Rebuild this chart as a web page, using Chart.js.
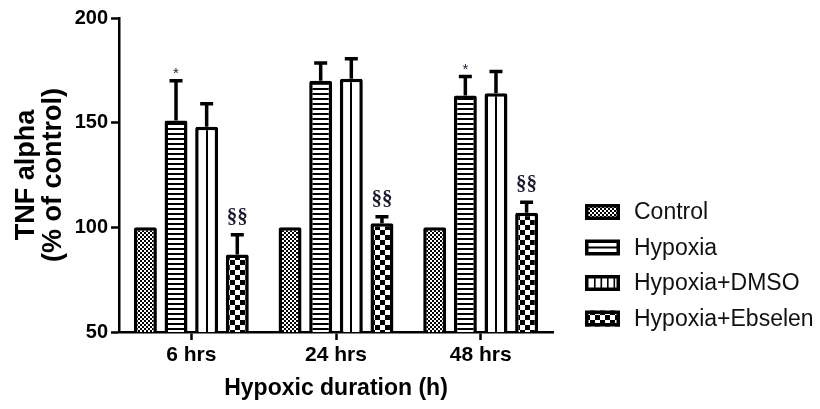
<!DOCTYPE html>
<html>
<head>
<meta charset="utf-8">
<script src="https://cdn.jsdelivr.net/npm/chart.js@4.4.1/dist/chart.umd.min.js"></script>
<style>
html, body { margin: 0; padding: 0; background: #fff; }
#wrap { width: 820px; height: 409px; }
</style>
</head>
<body>
<div id="wrap"><canvas id="chart" width="820" height="409"></canvas></div>
<script>
// data
const durations = ['6 hrs', '24 hrs', '48 hrs'];
const groupNames = ['Control', 'Hypoxia', 'Hypoxia+DMSO', 'Hypoxia+Ebselen'];
const controlVals = [100, 100, 100];
const hypoxiaVals = [151, 170, 163];
const dmsoVals = [148, 171, 164];
const ebselenVals = [87, 102, 107];
const controlErr = [0, 0, 0];
const hypoxiaErr = [19, 8.5, 9];
const dmsoErr = [11, 9.5, 10.5];
const ebselenErr = [9.5, 3, 5];
const controlMarks = ['', '', ''];
const hypoxiaMarks = ['*', '', '*'];
const dmsoMarks = ['', '', ''];
const ebselenMarks = ['§§', '§§', '§§'];
const yTicks = [50, 100, 150, 200];

const FONT = "'Liberation Sans', Arial, sans-serif";
const catPct = 0.847;

let ctx = document.getElementById('chart').getContext('2d');

function tile(w, h, draw) {
    let c = document.createElement('canvas');
    c.width = w;
    c.height = h;
    let g = c.getContext('2d');
    g.fillStyle = '#fff';
    g.fillRect(0, 0, w, h);
    g.fillStyle = '#000';
    draw(g);
    return c;
}

let checkFine = ctx.createPattern(tile(4, 4, g => { g.fillRect(0, 0, 2, 2); g.fillRect(2, 2, 2, 2); }), 'repeat');
let hLines = ctx.createPattern(tile(5, 5, g => g.fillRect(0, 3, 5, 2)), 'repeat');
let checkCoarse = ctx.createPattern(tile(10, 10, g => { g.fillRect(0, 0, 5, 5); g.fillRect(5, 5, 5, 5); }), 'repeat');
let vLineTile = tile(60, 4, g => g.fillRect(0, 0, 2, 4));

// one vertical line down the middle of each DMSO bar
function dmsoFill(c) {
    let p = ctx.createPattern(vLineTile, 'repeat');
    if (c.type === 'data') {
        let xs = c.chart.scales.x;
        let pitch = xs.width / durations.length * catPct / groupNames.length;
        let cx = xs.getPixelForValue(c.dataIndex) + 0.5 * pitch;
        p.setTransform(new DOMMatrix().translate(Math.round(cx) - 1, 0));
    }
    return p;
}

// legend swatches
const swatches = [
    (g, x, y, w, h) => { g.fillStyle = checkFine; g.fillRect(x, y, w, h); },
    (g, x, y, w, h) => { g.fillStyle = '#fff'; g.fillRect(x, y, w, h); g.fillStyle = '#000'; g.fillRect(x, y + h / 2 - 1, w, 2); },
    (g, x, y, w, h) => {
        g.fillStyle = '#fff'; g.fillRect(x, y, w, h); g.fillStyle = '#000';
        for (let lx = x + 9; lx < x + w - 4; lx += 6.5) g.fillRect(lx, y, 1.6, h);
    },
    (g, x, y, w, h) => { g.fillStyle = checkCoarse; g.fillRect(x, y, w, h); }
];

const errPlugin = {
    id: 'errBars',
    afterDatasetsDraw(chart) {
        let g = chart.ctx;
        let ys = chart.scales.y;
        chart.data.datasets.forEach((ds, di) => {
            let meta = chart.getDatasetMeta(di);
            meta.data.forEach((bar, i) => {
                let err = ds.errors[i];
                let top = ys.getPixelForValue(ds.data[i] + err);
                g.save();
                if (err > 0) {
                    g.strokeStyle = '#000';
                    g.lineWidth = 3.5;
                    g.beginPath();
                    g.moveTo(bar.x, bar.y);
                    g.lineTo(bar.x, top);
                    g.moveTo(bar.x - 6.5, top);
                    g.lineTo(bar.x + 6.5, top);
                    g.stroke();
                }
                let mark = ds.marks[i];
                if (mark) {
                    g.fillStyle = '#1a1a2e';
                    g.textAlign = 'center';
                    g.textBaseline = 'alphabetic';
                    if (mark === '*') {
                        g.font = '15px ' + FONT;
                        g.fillText(mark, bar.x, top - 3);
                    } else {
                        g.font = "bold 21px 'Liberation Serif', 'Times New Roman', serif";
                        g.fillText(mark, bar.x, top - 12);
                    }
                }
                g.restore();
            });
        });
    }
};

const legendPlugin = {
    id: 'sideLegend',
    afterDraw(chart) {
        let g = chart.ctx;
        chart.data.datasets.forEach((ds, i) => {
            let y = 212 + i * 35.5;
            g.save();
            swatches[i](g, 585, y - 8, 35, 16);
            g.strokeStyle = '#000';
            g.lineWidth = 3.5;
            g.strokeRect(586.75, y - 6.25, 31.5, 12.5);
            g.fillStyle = '#111';
            g.font = '23px ' + FONT;
            g.textAlign = 'left';
            g.textBaseline = 'middle';
            g.fillText(ds.label, 634, y + 1);
            g.restore();
        });
    }
};

function barSet(i, vals, errs, marks, fill) {
    return {
        label: groupNames[i],
        data: vals,
        errors: errs,
        marks: marks,
        backgroundColor: fill,
        borderColor: '#000',
        borderWidth: 3.5,
        borderSkipped: false,
        borderRadius: 2,
        categoryPercentage: catPct,
        barPercentage: 0.75
    };
}

let chart = new Chart(ctx, {
    type: 'bar',
    data: {
        labels: durations,
        datasets: [
            barSet(0, controlVals, controlErr, controlMarks, checkFine),
            barSet(1, hypoxiaVals, hypoxiaErr, hypoxiaMarks, hLines),
            barSet(2, dmsoVals, dmsoErr, dmsoMarks, dmsoFill),
            barSet(3, ebselenVals, ebselenErr, ebselenMarks, checkCoarse)
        ]
    },
    options: {
        responsive: false,
        animation: false,
        layout: { padding: { left: 0, right: 267, top: 18, bottom: 0 } },
        plugins: {
            legend: { display: false },
            tooltip: { enabled: false }
        },
        scales: {
            x: {
                grid: { offset: false, drawOnChartArea: false, tickLength: 8, tickColor: '#000', tickWidth: 2.5 },
                border: { color: '#000', width: 2.5 },
                ticks: { color: '#000', padding: 3, font: { family: FONT, size: 21, weight: 'bold' } },
                title: {
                    display: true,
                    text: 'Hypoxic duration (h)',
                    color: '#000',
                    font: { family: FONT, size: 23, weight: 'bold', lineHeight: 1.2 },
                    padding: { top: 0, bottom: 7 }
                },
                afterFit: s => { s.height = 77; }
            },
            y: {
                min: yTicks[0],
                max: yTicks[yTicks.length - 1],
                grid: { drawOnChartArea: false, tickLength: 8, tickColor: '#000', tickWidth: 2.5 },
                border: { color: '#000', width: 2.5 },
                ticks: {
                    stepSize: yTicks[1] - yTicks[0],
                    color: '#000',
                    padding: 3,
                    font: { family: FONT, size: 20, weight: 'bold' }
                },
                title: {
                    display: true,
                    text: ['TNF alpha', '(% of control)'],
                    color: '#000',
                    font: { family: FONT, size: 27, weight: 'bold', lineHeight: 1.0 },
                    padding: { top: 13, bottom: 0 }
                },
                afterFit: s => { s.width = 119; }
            }
        }
    },
    plugins: [errPlugin, legendPlugin]
});
</script>
</body>
</html>
